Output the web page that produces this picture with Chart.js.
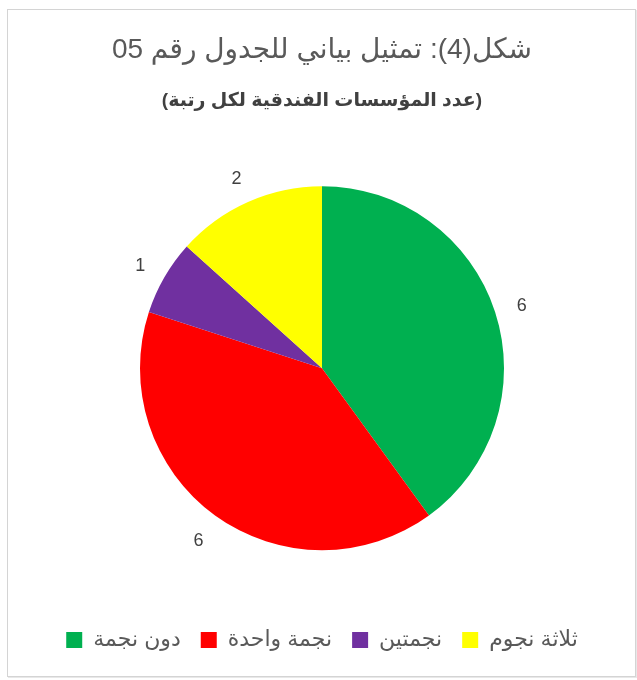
<!DOCTYPE html>
<html>
<head>
<meta charset="utf-8">
<script src="https://cdn.jsdelivr.net/npm/chart.js@4"></script>
<style>
    body { margin: 0; background: #fff; }
    #wrap { position: relative; width: 637px; height: 680px; }
    #frame {
        position: absolute; left: 7px; top: 9px; width: 627px; height: 666px;
        border: 1px solid #d4d4d4; box-shadow: 1px 1px 0 #e8e8e8;
    }
    canvas { position: absolute; left: 0; top: 0; direction: rtl; }
</style>
</head>
<body>
<div id="wrap">
    <div id="frame"></div>
    <canvas id="pieChart" dir="rtl" width="637" height="680"></canvas>
</div>
<script>
// Chart data
var categories = ['دون نجمة', 'نجمة واحدة', 'نجمتين', 'ثلاثة نجوم'];
var counts = [6, 6, 1, 2];
var colors = ['#00B050', '#FF0000', '#7030A0', '#FFFF00'];
var titleLine1 = 'شكل(4): تمثيل بياني للجدول رقم 05';
var titleLine2 = '(عدد المؤسسات الفندقية لكل رتبة)';

var fontFamily = '"Liberation Sans", Arial, "DejaVu Sans", sans-serif';

// value labels just outside each slice
var outsideLabels = {
    id: 'outsideLabels',
    afterDatasetsDraw: function (chart) {
        var ctx = chart.ctx;
        var meta = chart.getDatasetMeta(0);
        ctx.save();
        ctx.font = '18px ' + fontFamily;
        ctx.fillStyle = '#404040';
        ctx.textAlign = 'center';
        ctx.textBaseline = 'middle';
        meta.data.forEach(function (arc, i) {
            var p = arc.getProps(['x', 'y', 'startAngle', 'endAngle', 'outerRadius'], true);
            var mid = (p.startAngle + p.endAngle) / 2;
            var r = p.outerRadius + 28;
            ctx.fillText(String(counts[i]), p.x + Math.cos(mid) * r, p.y + Math.sin(mid) * r + 3);
        });
        ctx.restore();
    }
};

var ctx = document.getElementById('pieChart').getContext('2d');
var pieChart = new Chart(ctx, {
    type: 'pie',
    data: {
        labels: categories,
        datasets: [{
            data: counts,
            backgroundColor: colors,
            borderWidth: 0,
            radius: 182
        }]
    },
    options: {
        responsive: false,
        animation: false,
        layout: {
            padding: { left: 7, right: 0, top: 9, bottom: 19 }
        },
        plugins: {
            title: {
                display: true,
                text: titleLine1,
                color: '#595959',
                font: { family: fontFamily, size: 28, weight: 'normal' },
                padding: { top: 24, bottom: 23 }
            },
            subtitle: {
                display: true,
                text: titleLine2,
                color: '#404040',
                font: { family: fontFamily, size: 19, weight: 'bold' },
                padding: { top: 0, bottom: 15 }
            },
            legend: {
                position: 'bottom',
                labels: {
                    color: '#595959',
                    font: { family: fontFamily, size: 22 },
                    boxWidth: 16,
                    boxHeight: 16,
                    padding: 20
                }
            },
            tooltip: { enabled: false }
        }
    },
    plugins: [outsideLabels]
});
</script>
</body>
</html>
